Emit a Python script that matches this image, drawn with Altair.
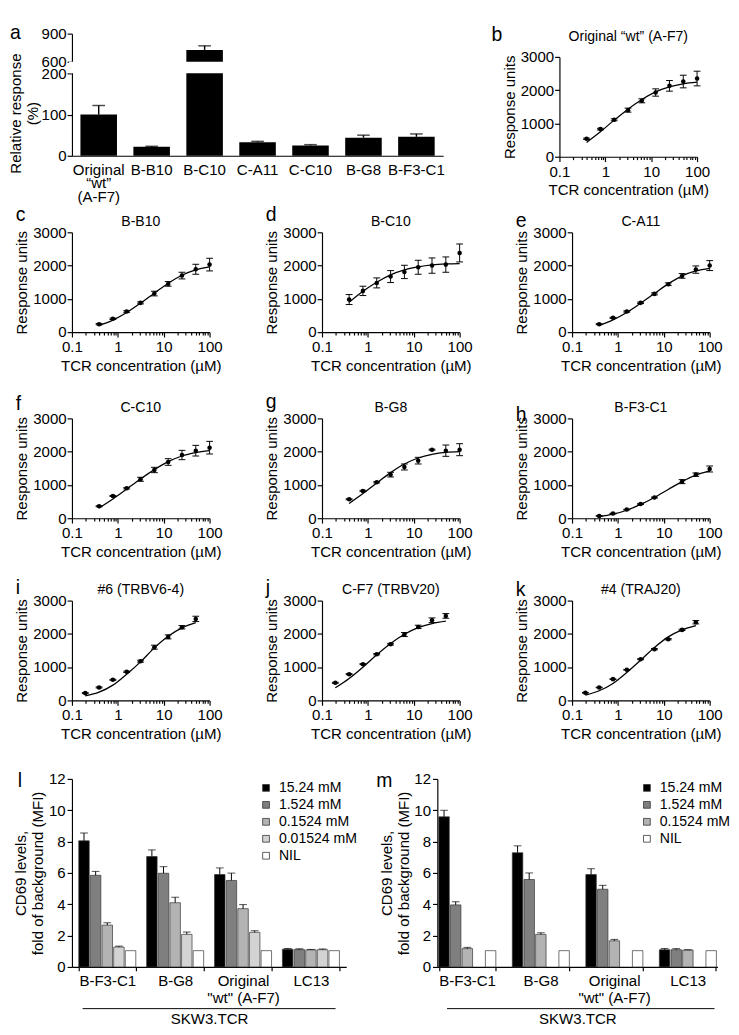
import altair as alt
import pandas as pd

FONT = "Liberation Sans"

# ---------------- panel a ----------------
a_cats = ["Original “wt” (A-F7)", "B-B10", "B-C10", "C-A11", "C-C10", "B-G8", "B-F3-C1"]
a_vals = [100, 22, 726, 33, 25, 44, 46]
a_errs = [22, 1, 44, 2, 2, 6, 7]
a_break = [203, 597]          # hidden part of the broken axis

# ---------------- dose-response panels ----------------
conc_main = [0.39, 0.78, 1.56, 3.125, 6.25, 12.5, 25, 50, 100]
conc_h = [0.39, 0.78, 1.56, 3.125, 6.25, 25, 50, 100]
conc_low = [0.195, 0.39, 0.78, 1.56, 3.125, 6.25, 12.5, 25, 50]

b_resp = [540, 830, 1110, 1400, 1680, 1930, 2130, 2260, 2350]
b_err = [20, 25, 30, 60, 60, 110, 160, 190, 220]
b_fit = [430, 750, 1100, 1430, 1720, 1950, 2100, 2190, 2240]

c_resp = [240, 400, 620, 880, 1160, 1450, 1700, 1890, 2030]
c_err = [20, 20, 25, 30, 70, 70, 100, 150, 190]
c_fit = [200, 360, 590, 870, 1170, 1470, 1710, 1870, 1960]

d_resp = [980, 1240, 1480, 1670, 1810, 1950, 2000, 2030, 2380]
d_err = [150, 140, 150, 180, 200, 210, 230, 230, 270]
d_fit = [900, 1230, 1500, 1720, 1870, 1960, 2020, 2050, 2060]

e_resp = [240, 430, 620, 880, 1150, 1440, 1690, 1880, 2000]
e_err = [15, 15, 20, 20, 30, 40, 70, 110, 150]
e_fit = [200, 370, 590, 870, 1160, 1450, 1690, 1840, 1920]

f_resp = [360, 670, 900, 1170, 1450, 1690, 1900, 2030, 2120]
f_err = [15, 15, 20, 60, 80, 100, 140, 160, 190]
f_fit = [310, 580, 880, 1180, 1460, 1700, 1870, 1970, 2030]

g_resp = [570, 820, 1080, 1310, 1540, 1730, 2060, 2030, 2060]
g_err = [15, 20, 20, 70, 90, 100, 15, 170, 180]
g_fit = [440, 740, 1060, 1370, 1630, 1810, 1920, 1980, 2000]

h_resp = [70, 140, 260, 430, 620, 1100, 1310, 1480]
h_err = [10, 10, 10, 15, 15, 60, 50, 90]
h_fit = [45, 120, 240, 415, 625, 865, 1100, 1295, 1420]

i_resp = [220, 390, 620, 860, 1180, 1600, 1910, 2200, 2450]
i_err = [15, 15, 15, 20, 30, 60, 60, 50, 80]
i_fit = [140, 250, 460, 790, 1160, 1580, 1930, 2180, 2340]

j_resp = [530, 790, 1090, 1390, 1690, 1980, 2210, 2410, 2540]
j_err = [15, 15, 15, 20, 25, 60, 50, 70, 70]
j_fit = [380, 660, 1000, 1370, 1710, 1990, 2190, 2310, 2380]

k_resp = [230, 390, 640, 920, 1240, 1540, 1840, 2120, 2350]
k_err = [10, 10, 10, 10, 15, 20, 20, 20, 50]
k_fit = [160, 290, 510, 840, 1210, 1590, 1910, 2120, 2250]

# ---------------- CD69 panels ----------------
cd_groups = ["B-F3-C1", "B-G8", "Original \"wt\" (A-F7)", "LC13"]
l_concs = ["15.24 mM", "1.524 mM", "0.1524 mM", "0.01524 mM", "NIL"]
l_colors = ["#000000", "#7f7f7f", "#b3b3b3", "#d3d3d3", "#ffffff"]
l_vals = [[8.05, 5.85, 2.67, 1.27, 1.04],
          [7.05, 5.98, 4.10, 2.08, 1.04],
          [5.90, 5.52, 3.72, 2.21, 1.04],
          [1.13, 1.11, 1.09, 1.10, 1.04]]
l_errs = [[0.50, 0.25, 0.15, 0.06, 0.0],
          [0.42, 0.42, 0.35, 0.15, 0.0],
          [0.42, 0.47, 0.26, 0.10, 0.0],
          [0.05, 0.05, 0.03, 0.05, 0.0]]

m_concs = ["15.24 mM", "1.524 mM", "0.1524 mM", "NIL"]
m_colors = ["#000000", "#7f7f7f", "#b3b3b3", "#ffffff"]
m_vals = [[9.58, 3.96, 1.17, 1.04],
          [7.29, 5.58, 2.08, 1.04],
          [5.90, 4.96, 1.67, 1.04],
          [1.10, 1.10, 1.08, 1.04]]
m_errs = [[0.42, 0.20, 0.08, 0.0],
          [0.44, 0.42, 0.10, 0.0],
          [0.37, 0.25, 0.09, 0.0],
          [0.08, 0.07, 0.02, 0.0]]

# ======================================================================
XTICKS = [round(mm * 10 ** e, 6) for e in (-1, 0, 1) for mm in range(1, 10)] + [100]
MAJOR = "datum.value == 0.1 || datum.value == 1 || datum.value == 10 || datum.value == 100"
DW, DH = 142, 103


def text_layer(txt, lx, ly, size=20, align="left"):
    return alt.Chart(pd.DataFrame({"t": [txt]})).mark_text(
        font=FONT, fontSize=size, align=align, baseline="alphabetic", color="black"
    ).encode(text="t:N", x=alt.value(lx), y=alt.value(ly))


def dose_panel(letter, title, conc, resp, err, fit_conc, fit, lx, ly, ty=-7, top_pad=0):
    pts = pd.DataFrame({"conc": conc, "resp": resp,
                        "lo": [r - e for r, e in zip(resp, err)],
                        "hi": [r + e for r, e in zip(resp, err)]})
    crv = pd.DataFrame({"conc": fit_conc, "resp": fit})
    xs = alt.Scale(type="log", domain=[0.1, 100])
    if top_pad:
        ys = alt.Scale(domain=[0, 3000], range=[DH + top_pad, top_pad])
    else:
        ys = alt.Scale(domain=[0, 3000])
    xax = alt.Axis(values=XTICKS, format="~g",
                   labelExpr="(" + MAJOR + ") ? datum.label : ''",
                   tickSize={"condition": {"test": MAJOR, "value": 5}, "value": 3},
                   title="TCR concentration (µM)", labelFlush=False, labelOverlap=False,
                   labelPadding=3, titlePadding=4)
    yax = alt.Axis(values=[0, 1000, 2000, 3000], format="d", title="Response units",
                   tickSize=5, labelPadding=1, titlePadding=3, labelOverlap=False)

    def X(f):
        return alt.X(f + ":Q", scale=xs, axis=xax)

    def Y(f):
        return alt.Y(f + ":Q", scale=ys, axis=yax)

    line = alt.Chart(crv).mark_line(color="black", strokeWidth=1.3, interpolate="monotone").encode(
        x=X("conc"), y=Y("resp"))
    bars = alt.Chart(pts).mark_rule(color="black", strokeWidth=1).encode(
        x=X("conc"), y=Y("lo"), y2="hi:Q")
    cap_lo = alt.Chart(pts).mark_point(shape="M-1,0L1,0", size=49, filled=False, color="black",
                                       strokeWidth=1, opacity=1).encode(x=X("conc"), y=Y("lo"))
    cap_hi = alt.Chart(pts).mark_point(shape="M-1,0L1,0", size=49, filled=False, color="black",
                                       strokeWidth=1, opacity=1).encode(x=X("conc"), y=Y("hi"))
    dots = alt.Chart(pts).mark_circle(color="black", size=22, opacity=1).encode(
        x=X("conc"), y=Y("resp"))
    return alt.layer(line, bars, cap_lo, cap_hi, dots,
                     text_layer(letter, lx, ly),
                     text_layer(title, DW / 2, ty, size=14.5, align="center")).properties(
        width=DW, height=DH + top_pad)


# ---------------- panel a (broken axis: piecewise scale + masked gap) ----------------
a_df = pd.DataFrame({"cat": a_cats, "val": a_vals, "err": a_errs})
a_df["top"] = a_df["val"] + a_df["err"]
AW, AH = 383, 126
xa_scale = alt.Scale(domain=a_cats, paddingInner=0.31, paddingOuter=0.16)
a_label_expr = ("datum.label == 'Original “wt” (A-F7)' ? "
                "['Original', '“wt”', '(A-F7)'] : datum.label")
xa_axis = alt.Axis(title=None, labelAngle=0, ticks=False, labelPadding=7,
                   labelLineHeight=14, labelExpr=a_label_expr, labelOverlap=False)
xa = alt.X("cat:N", sort=a_cats, scale=xa_scale, axis=xa_axis)
ya_s = alt.Scale(domain=[0, 200, 600, 900], range=[AH, 41, 29, 0], nice=False, zero=False)
ya_ax = alt.Axis(values=[0, 100, 200, 600, 900], title=["Relative response", "(%)"], tickSize=5,
                 labelPadding=1, titlePadding=1, titleY=82, labelOverlap=False)

mask_df = pd.DataFrame({"lo": [a_break[0]], "hi": [a_break[1]]})
pa = alt.layer(
    alt.Chart(a_df).mark_bar(color="black").encode(
        x=xa, y=alt.Y("val:Q", scale=ya_s, axis=ya_ax), y2=alt.datum(0)),
    alt.Chart(a_df).mark_rule(color="black", strokeWidth=1.5).encode(
        x=xa, y=alt.Y("val:Q", scale=ya_s, axis=ya_ax), y2="top:Q"),
    alt.Chart(a_df).mark_tick(color="black", thickness=1.5, size=13).encode(
        x=xa, y=alt.Y("top:Q", scale=ya_s, axis=ya_ax)),
    alt.Chart(mask_df).mark_rect(color="white", opacity=1).encode(
        x=alt.value(-3), x2=alt.value(AW + 2),
        y=alt.Y("lo:Q", scale=ya_s, axis=ya_ax), y2="hi:Q"),
    text_layer("a", -64, 6),
).properties(width=AW, height=AH)

# ---------------- dose panels ----------------
pb = dose_panel("b", "Original “wt” (A-F7)", conc_main, b_resp, b_err, conc_main, b_fit,
                -70, 8, ty=8, top_pad=24)
pc = dose_panel("c", "B-B10", conc_main, c_resp, c_err, conc_main, c_fit, -58, -12)
pd_ = dose_panel("d", "B-C10", conc_main, d_resp, d_err, conc_main, d_fit, -58, -12)
pe = dose_panel("e", "C-A11", conc_main, e_resp, e_err, conc_main, e_fit, -58, -5)
pf = dose_panel("f", "C-C10", conc_main, f_resp, f_err, conc_main, f_fit, -58, -9)
pg = dose_panel("g", "B-G8", conc_main, g_resp, g_err, conc_main, g_fit, -58, -11)
ph = dose_panel("h", "B-F3-C1", conc_h, h_resp, h_err, conc_main, h_fit, -58, 3)
pi = dose_panel("i", "#6 (TRBV6-4)", conc_low, i_resp, i_err, conc_low, i_fit, -58, -7)
pj = dose_panel("j", "C-F7 (TRBV20)", conc_low, j_resp, j_err, conc_low, j_fit, -58, -7)
pk = dose_panel("k", "#4 (TRAJ20)", conc_low, k_resp, k_err, conc_low, k_fit, -58, -5)


# ---------------- CD69 panels ----------------
CH = 194


def cd_panel(letter, concs, colors, vals, errs, w, legend_x, lx, line_x1, line_x2,
             pin, pout):
    rows = []
    for gname, vs, es in zip(cd_groups, vals, errs):
        for cname, v, e in zip(concs, vs, es):
            rows.append({"grp": gname, "conc": cname, "val": v, "err": e, "top": v + e})
    df = pd.DataFrame(rows)
    edf = df[df["err"] > 0]
    xs = alt.Scale(domain=cd_groups, paddingInner=pin, paddingOuter=pout)
    xax = alt.Axis(title="SKW3.TCR", labelAngle=0, tickBand="extent", tickSize=4,
                   labelPadding=3, labelLineHeight=18, titlePadding=6, labelOverlap=False,
                   labelExpr="indexof(datum.label, 'Original') >= 0 ? "
                             "['Original', '\"wt\" (A-F7)'] : datum.label")
    ys = alt.Scale(domain=[0, 12])
    yax = alt.Axis(values=[0, 2, 4, 6, 8, 10, 12], title=["CD69 levels,", "fold of background (MFI)"],
                   tickSize=5, labelPadding=2, titlePadding=3, labelOverlap=False)
    X = alt.X("grp:N", sort=cd_groups, scale=xs, axis=xax)
    XO = alt.XOffset("conc:N", sort=concs, scale=alt.Scale(domain=concs, paddingInner=0.1))
    bars = alt.Chart(df).mark_bar(stroke="#333333", strokeWidth=0.7).encode(
        x=X, xOffset=XO, y=alt.Y("val:Q", scale=ys, axis=yax),
        fill=alt.Fill("conc:N", sort=concs, scale=alt.Scale(domain=concs, range=colors),
                      legend=alt.Legend(title=None, orient="none", legendX=legend_x, legendY=2,
                                        symbolType="square", symbolSize=49,
                                        symbolStrokeColor="#333333", symbolStrokeWidth=0.8,
                                        labelFontSize=14.5, labelFont=FONT, labelOffset=6,
                                        rowPadding=2.5, padding=0, labelColor="black")))
    err = alt.Chart(edf).mark_rule(color="black", strokeWidth=1).encode(
        x=X, xOffset=XO, y=alt.Y("val:Q", scale=ys, axis=yax), y2="top:Q")
    cap = alt.Chart(edf).mark_tick(color="black", thickness=1, size=8).encode(
        x=X, xOffset=XO, y=alt.Y("top:Q", scale=ys, axis=yax))
    bracket = alt.Chart(pd.DataFrame({"d": [0]})).mark_rule(color="black", strokeWidth=1).encode(
        x=alt.value(line_x1), x2=alt.value(line_x2), y=alt.value(CH + 43))
    return alt.layer(bars, err, cap, bracket, text_layer(letter, lx, 8)).properties(width=w, height=CH)


pl = cd_panel("l", l_concs, l_colors, l_vals, l_errs, 283, 193, -56, 11, 272, 0.16, 0.1)
pm = cd_panel("m", m_concs, m_colors, m_vals, m_errs, 289, 209, -63, 10, 286, 0.23, 0.02)

row1 = alt.hconcat(pa, pb, spacing=48)
row2 = alt.hconcat(pc, pd_, pe, spacing=44)
row3 = alt.hconcat(pf, pg, ph, spacing=44)
row4 = alt.hconcat(pi, pj, pk, spacing=44)
row5 = alt.hconcat(pl, pm, spacing=19).resolve_scale(fill="independent")

rows234 = alt.vconcat(row2, row3, row4, spacing=19)
top = alt.vconcat(row1, rows234, spacing=0)
chart = alt.vconcat(top, row5, spacing=30).properties(padding=0).configure_view(
    stroke=None
).configure_axis(
    labelFont=FONT, titleFont=FONT, labelFontSize=15.5, titleFontSize=15.5,
    titleFontWeight="normal", labelColor="black", titleColor="black",
    domainColor="black", tickColor="black", domainWidth=1.2, tickWidth=1.2, grid=False
)

chart.save("out.html", embed_options={"renderer": "svg", "actions": False})
